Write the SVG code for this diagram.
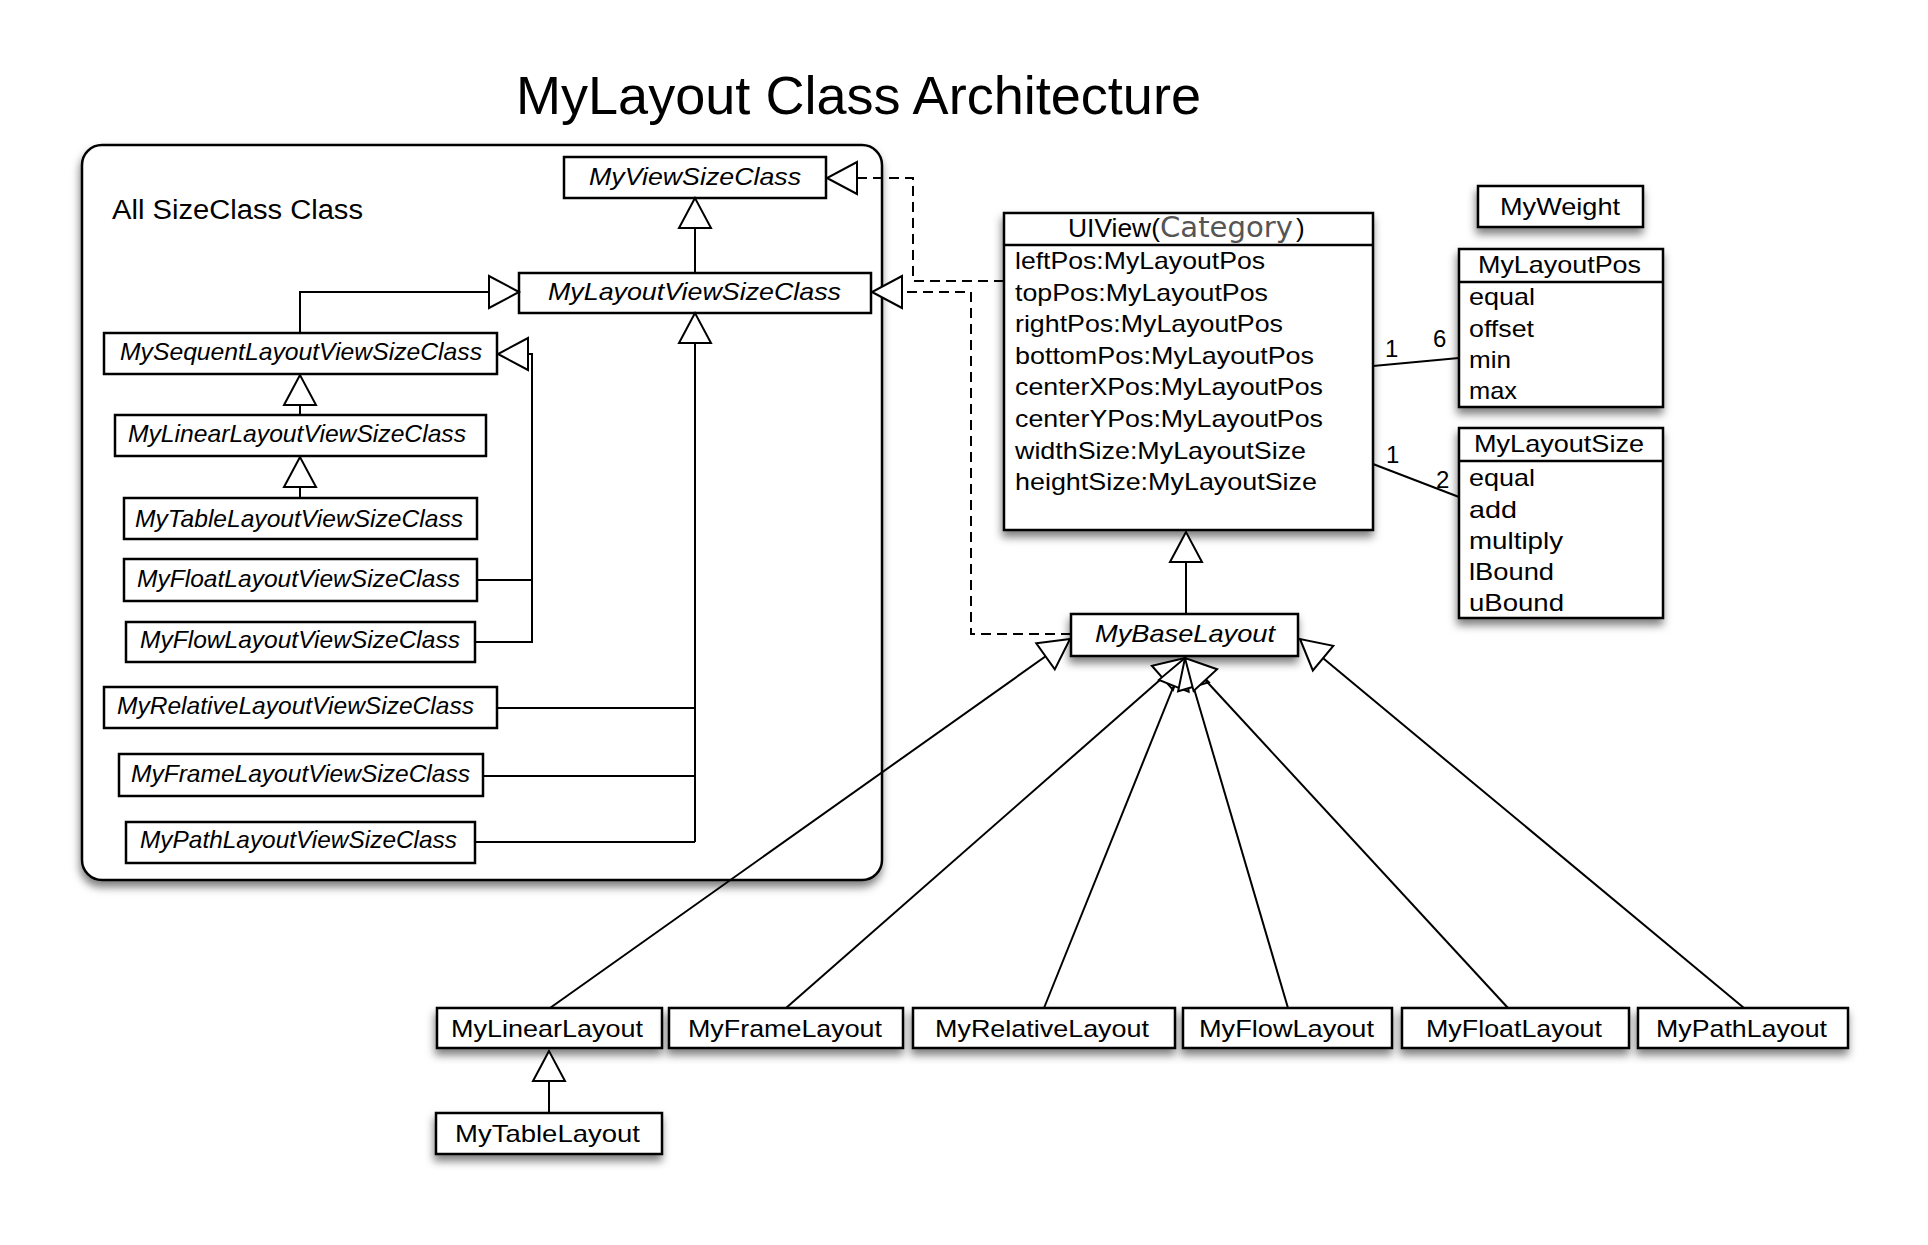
<svg xmlns="http://www.w3.org/2000/svg" width="1928" height="1245" viewBox="0 0 1928 1245">
<style>
.box{fill:#fff;stroke:#000;stroke-width:2.5}
.t{font-family:"Liberation Sans",Arial,Helvetica,sans-serif;fill:#000;font-size:24px}
.i{font-style:italic}
.ln{fill:none;stroke:#000;stroke-width:2}
.dash{stroke-dasharray:10 6}
.sh{filter:url(#shadow)}
</style>
<defs>
<filter id="shadow" x="-10%" y="-20%" width="125%" height="160%">
<feDropShadow dx="-1" dy="6" stdDeviation="4.5" flood-color="#000" flood-opacity="0.5"/>
</filter>
<marker id="tri" markerUnits="userSpaceOnUse" markerWidth="36" markerHeight="40" viewBox="-2 -20 36 40" refX="30" refY="0" orient="auto" overflow="visible">
<path d="M30,0 L0,-16 L0,16 Z" fill="#fff" stroke="#000" stroke-width="2" stroke-dasharray="none"/>
</marker>
</defs>
<rect width="1928" height="1245" fill="#fff"/>

<text class="t" x="516" y="114" style="font-size:54px" textLength="685" lengthAdjust="spacingAndGlyphs">MyLayout Class Architecture</text>

<g id="sizeclass-container">
<rect class="box sh" x="82" y="145" width="800" height="735" rx="20" ry="20"/>
<text class="t" x="112" y="219" style="font-size:27px" textLength="251" lengthAdjust="spacingAndGlyphs">All SizeClass Class</text>
</g>

<g id="MyViewSizeClass"><rect class="box" x="564" y="157" width="262" height="41"/><text class="t i" x="589" y="185" textLength="212" lengthAdjust="spacingAndGlyphs">MyViewSizeClass</text></g>
<g id="MyLayoutViewSizeClass"><rect class="box" x="519" y="273" width="352" height="40"/><text class="t i" x="548" y="300" textLength="293" lengthAdjust="spacingAndGlyphs">MyLayoutViewSizeClass</text></g>
<g id="MySequentLayoutViewSizeClass"><rect class="box" x="104" y="333" width="393" height="41"/><text class="t i" x="120" y="360" textLength="362" lengthAdjust="spacingAndGlyphs">MySequentLayoutViewSizeClass</text></g>
<g id="MyLinearLayoutViewSizeClass"><rect class="box" x="115" y="415" width="371" height="41"/><text class="t i" x="128" y="442" textLength="338" lengthAdjust="spacingAndGlyphs">MyLinearLayoutViewSizeClass</text></g>
<g id="MyTableLayoutViewSizeClass"><rect class="box" x="124" y="498" width="353" height="41"/><text class="t i" x="135" y="527" textLength="328" lengthAdjust="spacingAndGlyphs">MyTableLayoutViewSizeClass</text></g>
<g id="MyFloatLayoutViewSizeClass"><rect class="box" x="124" y="559" width="353" height="42"/><text class="t i" x="137" y="587" textLength="323" lengthAdjust="spacingAndGlyphs">MyFloatLayoutViewSizeClass</text></g>
<g id="MyFlowLayoutViewSizeClass"><rect class="box" x="126" y="622" width="349" height="40"/><text class="t i" x="140" y="648" textLength="320" lengthAdjust="spacingAndGlyphs">MyFlowLayoutViewSizeClass</text></g>
<g id="MyRelativeLayoutViewSizeClass"><rect class="box" x="104" y="687" width="393" height="41"/><text class="t i" x="117" y="714" textLength="357" lengthAdjust="spacingAndGlyphs">MyRelativeLayoutViewSizeClass</text></g>
<g id="MyFrameLayoutViewSizeClass"><rect class="box" x="119" y="754" width="364" height="42"/><text class="t i" x="131" y="782" textLength="339" lengthAdjust="spacingAndGlyphs">MyFrameLayoutViewSizeClass</text></g>
<g id="MyPathLayoutViewSizeClass"><rect class="box" x="126" y="822" width="349" height="41"/><text class="t i" x="140" y="848" textLength="317" lengthAdjust="spacingAndGlyphs">MyPathLayoutViewSizeClass</text></g>

<g id="UIView">
<rect class="box sh" x="1004" y="213" width="369" height="317"/>
<line x1="1004" y1="245" x2="1373" y2="245" stroke="#000" stroke-width="2.5"/>
<text class="t" x="1068" y="237" style="font-size:26px" textLength="92" lengthAdjust="spacingAndGlyphs">UIView(</text>
<text class="t" x="1160" y="237" style="font-size:29px;fill:#555;font-family:'DejaVu Sans',sans-serif" textLength="133" lengthAdjust="spacingAndGlyphs">Category</text>
<text class="t" x="1296" y="237" style="font-size:26px">)</text>
<text class="t" x="1015" y="269" textLength="250" lengthAdjust="spacingAndGlyphs">leftPos:MyLayoutPos</text>
<text class="t" x="1015" y="301" textLength="253" lengthAdjust="spacingAndGlyphs">topPos:MyLayoutPos</text>
<text class="t" x="1015" y="332" textLength="268" lengthAdjust="spacingAndGlyphs">rightPos:MyLayoutPos</text>
<text class="t" x="1015" y="364" textLength="299" lengthAdjust="spacingAndGlyphs">bottomPos:MyLayoutPos</text>
<text class="t" x="1015" y="395" textLength="308" lengthAdjust="spacingAndGlyphs">centerXPos:MyLayoutPos</text>
<text class="t" x="1015" y="427" textLength="308" lengthAdjust="spacingAndGlyphs">centerYPos:MyLayoutPos</text>
<text class="t" x="1015" y="459" textLength="291" lengthAdjust="spacingAndGlyphs">widthSize:MyLayoutSize</text>
<text class="t" x="1015" y="490" textLength="302" lengthAdjust="spacingAndGlyphs">heightSize:MyLayoutSize</text>
</g>

<g id="MyWeight"><rect class="box sh" x="1478" y="186" width="165" height="41"/><text class="t" x="1500" y="215" textLength="120" lengthAdjust="spacingAndGlyphs">MyWeight</text></g>

<g id="MyLayoutPos">
<rect class="box sh" x="1459" y="249" width="204" height="158"/>
<line x1="1459" y1="282" x2="1663" y2="282" stroke="#000" stroke-width="2.5"/>
<text class="t" x="1478" y="273" textLength="163" lengthAdjust="spacingAndGlyphs">MyLayoutPos</text>
<text class="t" x="1469" y="305" textLength="66" lengthAdjust="spacingAndGlyphs">equal</text>
<text class="t" x="1469" y="337" textLength="65" lengthAdjust="spacingAndGlyphs">offset</text>
<text class="t" x="1469" y="368" textLength="42" lengthAdjust="spacingAndGlyphs">min</text>
<text class="t" x="1469" y="399" textLength="48" lengthAdjust="spacingAndGlyphs">max</text>
</g>

<g id="MyLayoutSize">
<rect class="box sh" x="1459" y="428" width="204" height="190"/>
<line x1="1459" y1="461" x2="1663" y2="461" stroke="#000" stroke-width="2.5"/>
<text class="t" x="1474" y="452" textLength="170" lengthAdjust="spacingAndGlyphs">MyLayoutSize</text>
<text class="t" x="1469" y="486" textLength="66" lengthAdjust="spacingAndGlyphs">equal</text>
<text class="t" x="1469" y="518" textLength="48" lengthAdjust="spacingAndGlyphs">add</text>
<text class="t" x="1469" y="549" textLength="94" lengthAdjust="spacingAndGlyphs">multiply</text>
<text class="t" x="1469" y="580" textLength="85" lengthAdjust="spacingAndGlyphs">lBound</text>
<text class="t" x="1469" y="611" textLength="95" lengthAdjust="spacingAndGlyphs">uBound</text>
</g>

<g id="MyBaseLayout"><rect class="box sh" x="1071" y="614" width="227" height="42"/><text class="t i" x="1095" y="642" textLength="180" lengthAdjust="spacingAndGlyphs">MyBaseLayout</text></g>

<g id="MyLinearLayout"><rect class="box sh" x="437" y="1008" width="225" height="40"/><text class="t" x="451" y="1037" textLength="192" lengthAdjust="spacingAndGlyphs">MyLinearLayout</text></g>
<g id="MyFrameLayout"><rect class="box sh" x="669" y="1008" width="234" height="40"/><text class="t" x="688" y="1037" textLength="194" lengthAdjust="spacingAndGlyphs">MyFrameLayout</text></g>
<g id="MyRelativeLayout"><rect class="box sh" x="913" y="1008" width="262" height="40"/><text class="t" x="935" y="1037" textLength="214" lengthAdjust="spacingAndGlyphs">MyRelativeLayout</text></g>
<g id="MyFlowLayout"><rect class="box sh" x="1183" y="1008" width="209" height="40"/><text class="t" x="1199" y="1037" textLength="175" lengthAdjust="spacingAndGlyphs">MyFlowLayout</text></g>
<g id="MyFloatLayout"><rect class="box sh" x="1402" y="1008" width="227" height="40"/><text class="t" x="1426" y="1037" textLength="176" lengthAdjust="spacingAndGlyphs">MyFloatLayout</text></g>
<g id="MyPathLayout"><rect class="box sh" x="1638" y="1008" width="210" height="40"/><text class="t" x="1656" y="1037" textLength="171" lengthAdjust="spacingAndGlyphs">MyPathLayout</text></g>
<g id="MyTableLayout"><rect class="box sh" x="436" y="1113" width="226" height="41"/><text class="t" x="455" y="1142" textLength="185" lengthAdjust="spacingAndGlyphs">MyTableLayout</text></g>

<g id="connectors">
<path class="ln" d="M695,273 V198" marker-end="url(#tri)"/>
<path class="ln" d="M695,842 V313" marker-end="url(#tri)"/>
<path class="ln" d="M497,708 H695"/>
<path class="ln" d="M483,776 H695"/>
<path class="ln" d="M475,842 H695"/>
<path class="ln" d="M300,333 V292 H519" marker-end="url(#tri)"/>
<path class="ln" d="M300,415 V375" marker-end="url(#tri)"/>
<path class="ln" d="M300,498 V457" marker-end="url(#tri)"/>
<path class="ln" d="M477,580 H532 V354 H498" marker-end="url(#tri)"/>
<path class="ln" d="M475,642 H532 V580"/>
<path class="ln dash" d="M1004,281 H913 V178 H827" marker-end="url(#tri)"/>
<path class="ln dash" d="M1071,634 H971 V292 H872" marker-end="url(#tri)"/>
<path class="ln" d="M1186,614 V532" marker-end="url(#tri)"/>
<path class="ln" d="M1373,366 L1459,358"/>
<path class="ln" d="M1373,464 L1459,497"/>
<text class="t" x="1385" y="357">1</text>
<text class="t" x="1433" y="347">6</text>
<text class="t" x="1386" y="463">1</text>
<text class="t" x="1436" y="488">2</text>
<path class="ln" d="M550,1008 L1070,639" marker-end="url(#tri)"/>
<path class="ln" d="M786,1008 L1185,658" marker-end="url(#tri)"/>
<path class="ln" d="M1044,1008 L1185,658" marker-end="url(#tri)"/>
<path class="ln" d="M1288,1008 L1185,658" marker-end="url(#tri)"/>
<path class="ln" d="M1508,1008 L1185,658" marker-end="url(#tri)"/>
<path class="ln" d="M1744,1008 L1300,639" marker-end="url(#tri)"/>
<path class="ln" d="M549,1113 V1051" marker-end="url(#tri)"/>
</g>
</svg>
